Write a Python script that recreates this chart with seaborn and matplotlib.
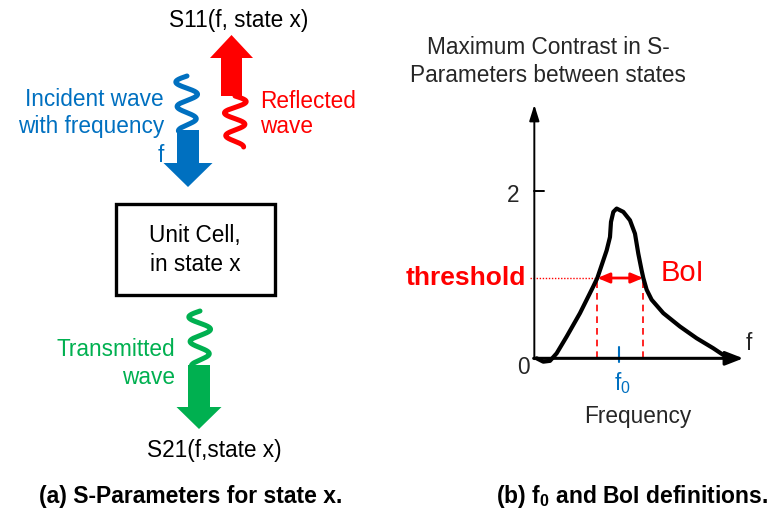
import numpy as np
import pandas as pd
import matplotlib
matplotlib.use("Agg")
import matplotlib.pyplot as plt
from matplotlib.patches import Polygon, Rectangle
import seaborn as sns

# ---------------- data ----------------
freq = [0.07, 0.27, 0.47, 0.67, 0.97, 1.37, 1.77, 1.89, 2.17, 2.27, 2.30, 2.37,
        2.47, 2.67, 2.87, 3.02, 3.12, 3.22, 3.27, 3.37, 3.52, 3.87, 4.37, 4.87,
        5.37, 5.67]
contrast = [0.00, -0.04, -0.03, 0.06, 0.26, 0.54, 0.86, 0.96, 1.29, 1.45, 1.63,
            1.75, 1.79, 1.75, 1.65, 1.49, 1.25, 1.05, 0.96, 0.82, 0.70, 0.54,
            0.38, 0.24, 0.12, 0.04]
threshold = 0.96
boi_low, boi_high = 1.89, 3.27
f0 = 2.55
ytick_vals = [2]
ytick_labels = ["2"]

BLUE = "#0070C0"
RED = "#FF0000"
GREEN = "#00B050"

sns.set_theme(style="white")
plt.rcParams["font.family"] = ["Liberation Sans", "DejaVu Sans"]
plt.rcParams["mathtext.fontset"] = "custom"
plt.rcParams["mathtext.rm"] = "Liberation Sans"
plt.rcParams["mathtext.it"] = "Liberation Sans"
plt.rcParams["mathtext.bf"] = "Liberation Sans:bold"

fig = plt.figure(figsize=(7.71, 5.12), dpi=100)
ax0 = fig.add_axes([0, 0, 1, 1])
ax0.set_xlim(0, 771)
ax0.set_ylim(512, 0)
ax0.axis("off")

FS = 16.3

# ---------------- left panel: S-parameter illustration ----------------
def block_arrow(ax, xc, y_tail, y_base, y_tip, shaft_w, head_w, color):
    pts = [(xc - shaft_w / 2, y_tail), (xc + shaft_w / 2, y_tail),
           (xc + shaft_w / 2, y_base), (xc + head_w / 2, y_base),
           (xc, y_tip), (xc - head_w / 2, y_base), (xc - shaft_w / 2, y_base)]
    ax.add_patch(Polygon(pts, closed=True, facecolor=color, edgecolor="none"))

def squiggle(ax, xc, y_top, y_bot, amp, color, cycles=2.25, phase=np.pi):
    t = np.linspace(0, 1, 300)
    y = y_top + (y_bot - y_top) * t
    x = xc + amp * np.sin(2 * np.pi * cycles * t + phase) * (1 - 0.25 * t)
    ax.plot(x, y, color=color, lw=3.6, solid_capstyle="round")

# reflected (red, up)
block_arrow(ax0, 231.5, 96, 58, 35, 21, 43, RED)
squiggle(ax0, 235, 96, 147, 11.5, RED, cycles=2.25, phase=0)
ax0.text(239, 21, "S11(f, state x)", ha="center", va="center", fontsize=FS, color="black")
ax0.text(260, 114, "Reflected\nwave", ha="left", va="center", fontsize=FS,
         color=RED, linespacing=1.15)

# incident (blue, down)
squiggle(ax0, 187, 76, 131, 11.5, BLUE, cycles=2.25, phase=np.pi)
block_arrow(ax0, 188, 130, 163, 187, 22, 49, BLUE)
ax0.text(164, 100, "Incident wave", ha="right", va="center", fontsize=FS, color=BLUE)
ax0.text(164, 127, "with frequency", ha="right", va="center", fontsize=FS, color=BLUE)
ax0.text(164, 155, "f", ha="right", va="center", fontsize=FS, color=BLUE)

# unit cell box
ax0.add_patch(Rectangle((116, 204), 159, 91, facecolor="white", edgecolor="black", lw=2.4))
ax0.text(195, 250, "Unit Cell,\nin state x", ha="center", va="center", fontsize=FS,
         color="black", linespacing=1.3)

# transmitted (green, down)
squiggle(ax0, 200, 311, 366, 11.5, GREEN, cycles=2.25, phase=np.pi)
block_arrow(ax0, 199, 365, 407, 429, 22, 45, GREEN)
ax0.text(175, 350, "Transmitted", ha="right", va="center", fontsize=FS, color=GREEN)
ax0.text(175, 378, "wave", ha="right", va="center", fontsize=FS, color=GREEN)
ax0.text(214, 450, "S21(f,state x)", ha="center", va="center", fontsize=FS, color="black")

ax0.text(191, 496, "(a) S-Parameters for state x.", ha="center", va="center",
         fontsize=16.5, fontweight="bold", color="black")
ax0.text(632, 496, r"(b) f$_\mathbf{0}$ and BoI definitions.", ha="center", va="center",
         fontsize=16.5, fontweight="bold", color="black")

# ---------------- right panel: contrast curve ----------------
# pixel mapping: x_px = 534.33 + 33.33 f ; y_px = 358.33 - 83.67 v
L, R, T, B = 500, 760, 90, 380
ax2 = fig.add_axes([L / 771, 1 - B / 512, (R - L) / 771, (B - T) / 512])
ax2.patch.set_alpha(0)
ax2.set_xlim((L - 534.33) / 33.33, (R - 534.33) / 33.33)
ax2.set_ylim((358.33 - B) / 83.67, (358.33 - T) / 83.67)
for s in ax2.spines.values():
    s.set_visible(False)
ax2.set_xticks([])
ax2.set_yticks([])
ax2.grid(False)

df = pd.DataFrame({"freq": freq, "contrast": contrast})
sns.lineplot(data=df, x="freq", y="contrast", ax=ax2, color="black", lw=3.0,
             sort=False, estimator=None, zorder=5)
for ln in ax2.lines:
    ln.set_solid_joinstyle("round")
    ln.set_solid_capstyle("round")

# axes arrows
ax2.annotate("", xy=(6.27, 0), xytext=(-0.02, 0),
             arrowprops=dict(arrowstyle="-|>,head_length=0.9,head_width=0.35",
                             color="black", lw=2.2, shrinkA=0, shrinkB=0))
ax2.annotate("", xy=(0, 3.03), xytext=(0, -0.01),
             arrowprops=dict(arrowstyle="-|>,head_length=0.8,head_width=0.25",
                             color="black", lw=1.4, shrinkA=0, shrinkB=0))
for yv in ytick_vals:
    ax2.plot([0, 0.3], [yv, yv], color="black", lw=1.4)

# threshold and band
ax2.plot([-0.13, boi_low], [threshold, threshold], color=RED, lw=1.0, ls=(0, (1, 1.2)))
for xb in (boi_low, boi_high):
    ax2.plot([xb, xb], [0, threshold], color=RED, lw=1.2, ls=(0, (4, 3)))
ax2.annotate("", xy=(boi_high, threshold), xytext=(boi_low, threshold),
             arrowprops=dict(arrowstyle="<|-|>,head_length=0.6,head_width=0.25",
                             color=RED, lw=2.0, shrinkA=0, shrinkB=0), zorder=6)
ax2.plot([f0, f0], [-0.04, 0.135], color=BLUE, lw=1.5)

# right-panel texts (pixel coordinates)
ax0.text(548, 47, "Maximum Contrast in S-", ha="center", va="center", fontsize=FS)
ax0.text(548, 75, "Parameters between states", ha="center", va="center", fontsize=FS)
ax0.text(513, 195, ytick_labels[0], ha="center", va="center", fontsize=FS)
ax0.text(523, 368, "0", ha="center", va="center", fontsize=FS)
ax0.text(749, 343, "f", ha="center", va="center", fontsize=FS)
ax0.text(622, 383, r"f$_0$", ha="center", va="center", fontsize=FS, color=BLUE)
ax0.text(638, 417, "Frequency", ha="center", va="center", fontsize=FS)
ax0.text(466, 278, "threshold", ha="center", va="center", fontsize=19, fontweight="bold", color=RED)
ax0.text(682, 273, "BoI", ha="center", va="center", fontsize=21, color=RED)

fig.savefig("out.png", dpi=100)
